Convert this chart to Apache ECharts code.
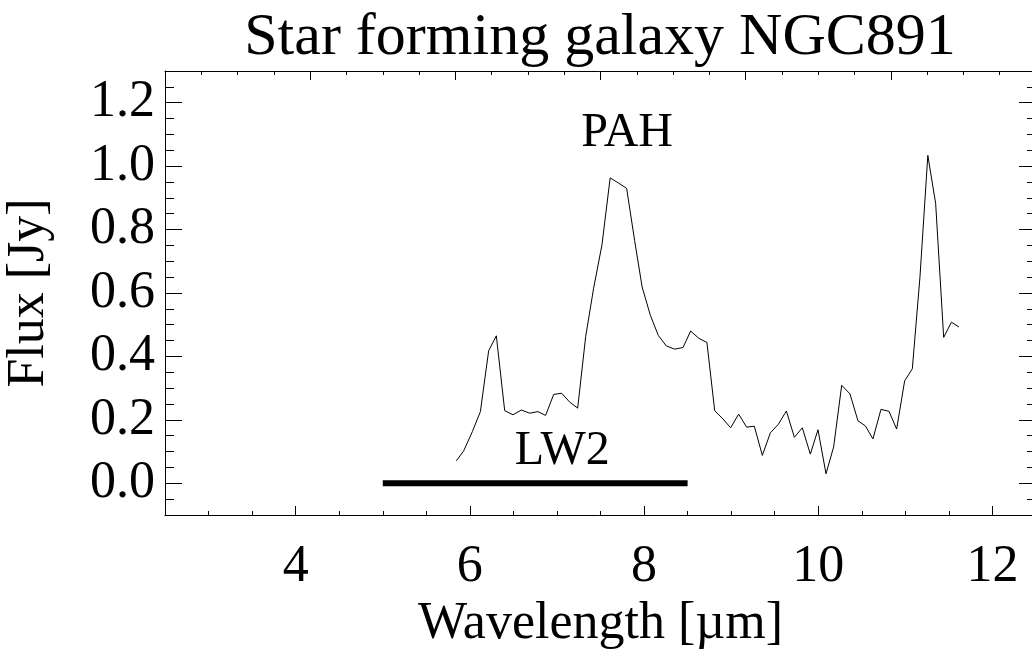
<!DOCTYPE html>
<html>
<head>
<meta charset="utf-8">
<script src="https://cdn.jsdelivr.net/npm/echarts@6/dist/echarts.min.js"></script>
<style>html,body{margin:0;padding:0;background:#fff}#c{width:1032px;height:650px}</style>
</head>
<body>
<div id="c"></div>
<script>
const wavelength = [5.845,5.929,6.029,6.121,6.216,6.304,6.400,6.495,6.591,6.687,6.782,6.870,6.962,7.054,7.146,7.238,7.330,7.421,7.517,7.611,7.705,7.800,7.892,7.978,8.072,8.164,8.256,8.351,8.447,8.535,8.630,8.722,8.811,8.906,8.994,9.086,9.178,9.266,9.358,9.450,9.542,9.634,9.726,9.817,9.909,9.997,10.089,10.177,10.269,10.364,10.456,10.541,10.628,10.720,10.812,10.900,10.992,11.080,11.168,11.258,11.348,11.440,11.529,11.615];
const flux = [0.071,0.102,0.163,0.226,0.418,0.465,0.229,0.216,0.231,0.221,0.226,0.214,0.280,0.284,0.256,0.237,0.463,0.615,0.752,0.963,0.947,0.930,0.765,0.619,0.530,0.466,0.433,0.423,0.428,0.480,0.457,0.444,0.229,0.203,0.175,0.218,0.177,0.180,0.088,0.159,0.186,0.228,0.145,0.175,0.092,0.169,0.030,0.115,0.309,0.282,0.197,0.181,0.140,0.233,0.227,0.171,0.323,0.361,0.651,1.034,0.882,0.460,0.508,0.493];
const lw2Range = [5, 8.5];
const lw2Level = 0;
const xTickLabels = [4, 6, 8, 10, 12];
const xMinorTicks = [3,3.5,4,4.5,5,5.5,6,6.5,7,7.5,8,8.5,9,9.5,10,10.5,11,11.5,12];
const yTickLabels = [0.0, 0.2, 0.4, 0.6, 0.8, 1.0, 1.2];
const yMinorTicks = [-0.05,0,0.05,0.1,0.15,0.2,0.25,0.3,0.35,0.4,0.45,0.5,0.55,0.6,0.65,0.7,0.75,0.8,0.85,0.9,0.95,1.0,1.05,1.1,1.15,1.2,1.25];
const annotations = [
  {name: 'PAH', x: 7.806, y: 1.103},
  {name: 'LW2', x: 7.06, y: 0.099}
];

const FONT = "'Liberation Serif', 'Times New Roman', serif";
const spectrum = wavelength.map((w, i) => [w, flux[i]]);
const lw2 = lw2Range.map(w => [w, lw2Level]);

const chart = echarts.init(document.getElementById('c'), null, {renderer: 'canvas'});
const noZeroLine = {show: true, onZero: false, lineStyle: {color: '#000', width: 1}};
const hiddenLine = {show: false, onZero: false};
const baseX = {type: 'value', min: 2.5, max: 12.5, gridIndex: 0, splitLine: {show: false}};
const baseY = {type: 'value', min: -0.1, max: 1.3, gridIndex: 0, splitLine: {show: false}};
chart.setOption({
  animation: false,
  backgroundColor: '#fff',
  title: {
    text: 'Star forming galaxy NGC891',
    left: 595, top: 3, textAlign: 'center',
    textStyle: {fontFamily: FONT, fontSize: 60, fontWeight: 'normal', color: '#000'}
  },
  grid: {left: 165, top: 71, right: -4, bottom: 135, containLabel: false, outerBoundsMode: 'none'},
  xAxis: [
    Object.assign({}, baseX, {
      position: 'bottom',
      name: 'Wavelength [µm]', nameLocation: 'middle', nameGap: 80,
      nameTextStyle: {fontFamily: FONT, fontSize: 52, color: '#000'},
      axisLine: noZeroLine,
      axisTick: {show: true, inside: true, length: 9, customValues: xTickLabels, lineStyle: {color: '#000'}},
      axisLabel: {show: true, customValues: xTickLabels, margin: 26, fontFamily: FONT, fontSize: 52, color: '#000', formatter: v => String(v)}
    }),
    Object.assign({}, baseX, {
      position: 'bottom',
      axisLine: hiddenLine,
      axisTick: {show: true, inside: true, length: 4, customValues: xMinorTicks, lineStyle: {color: '#000'}},
      axisLabel: {show: false}
    }),
    {
      type: 'value', min: 0, max: 6, interval: 1, position: 'top', gridIndex: 0,
      splitLine: {show: false},
      axisLine: noZeroLine,
      axisTick: {show: true, inside: true, length: 9, lineStyle: {color: '#000'}},
      minorTick: {show: true, splitNumber: 4, length: 4, lineStyle: {color: '#000'}},
      axisLabel: {show: false}
    }
  ],
  yAxis: [
    Object.assign({}, baseY, {
      position: 'left',
      name: 'Flux [Jy]', nameLocation: 'middle', nameGap: 110, nameRotate: 90,
      nameTextStyle: {fontFamily: FONT, fontSize: 52, color: '#000'},
      axisLine: noZeroLine,
      axisTick: {show: true, inside: true, length: 17, customValues: yTickLabels, lineStyle: {color: '#000'}},
      axisLabel: {show: true, customValues: yTickLabels, margin: 10, fontFamily: FONT, fontSize: 52, color: '#000', formatter: v => v.toFixed(1)}
    }),
    Object.assign({}, baseY, {
      position: 'left',
      axisLine: hiddenLine,
      axisTick: {show: true, inside: true, length: 9, customValues: yMinorTicks, lineStyle: {color: '#000'}},
      axisLabel: {show: false}
    }),
    Object.assign({}, baseY, {
      position: 'right',
      axisLine: noZeroLine,
      axisTick: {show: true, inside: true, length: 17, customValues: yTickLabels, lineStyle: {color: '#000'}},
      axisLabel: {show: false}
    }),
    Object.assign({}, baseY, {
      position: 'right',
      axisLine: hiddenLine,
      axisTick: {show: true, inside: true, length: 9, customValues: yMinorTicks, lineStyle: {color: '#000'}},
      axisLabel: {show: false}
    })
  ],
  series: [
    {
      type: 'line', name: 'NGC891', xAxisIndex: 0, yAxisIndex: 0,
      data: spectrum, showSymbol: false, symbol: 'none',
      lineStyle: {color: '#000', width: 1}
    },
    {
      type: 'line', name: 'LW2', xAxisIndex: 0, yAxisIndex: 0,
      data: lw2, showSymbol: false, symbol: 'none',
      lineStyle: {color: '#000', width: 6, cap: 'butt'}
    },
    {
      type: 'scatter', name: 'labels', xAxisIndex: 0, yAxisIndex: 0,
      symbolSize: 1,
      itemStyle: {color: 'rgba(0,0,0,0)', opacity: 1},
      data: annotations.map(a => ({name: a.name, value: [a.x, a.y]})),
      label: {show: true, position: 'inside', formatter: p => p.name, fontFamily: FONT, fontSize: 48, color: '#000', opacity: 1},
      silent: true
    }
  ]
});
</script>
</body>
</html>
